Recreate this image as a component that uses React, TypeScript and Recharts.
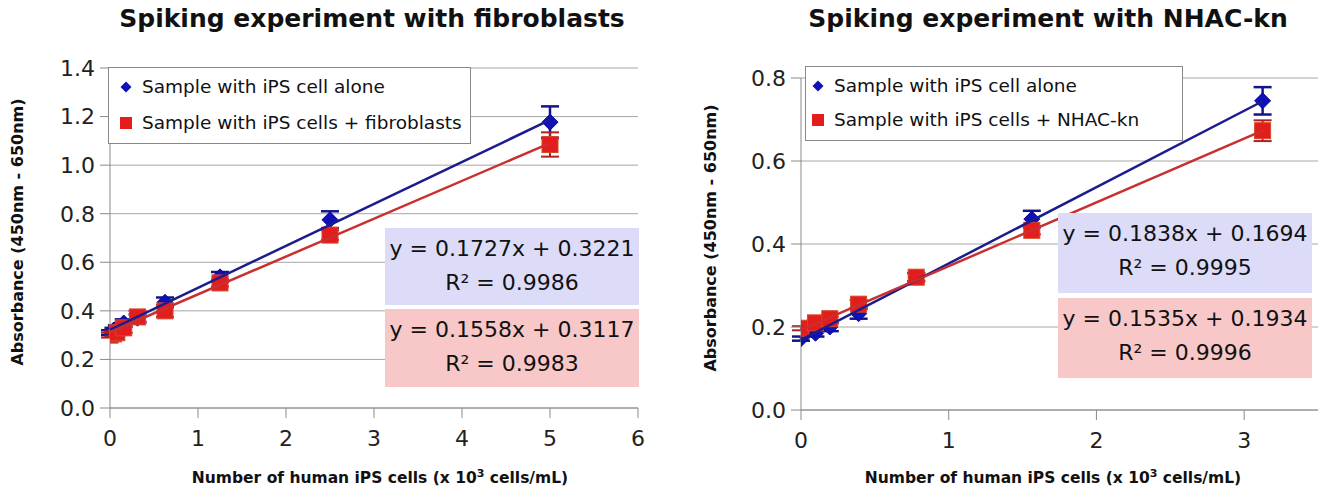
import React from 'react';
import { ComposedChart, Scatter, XAxis, YAxis, CartesianGrid, ErrorBar } from 'recharts';

// fibroblast spiking experiment
const xLeft = [0, 0.039, 0.078, 0.156, 0.3125, 0.625, 1.25, 2.5, 5];
const aloneLeft = [0.31, 0.32, 0.33, 0.35, 0.37, 0.435, 0.54, 0.775, 1.177];
const aloneLeftErr = [0.01, 0.01, 0.01, 0.015, 0.015, 0.02, 0.02, 0.035, 0.065];
const fibroLeft = [0.3, 0.305, 0.31, 0.33, 0.375, 0.4, 0.515, 0.712, 1.085];
const fibroLeftErr = [0.01, 0.01, 0.01, 0.02, 0.025, 0.025, 0.015, 0.02, 0.05];
const aloneLeftFit = [[0, 0.322], [5, 1.186]];
const fibroLeftFit = [[0, 0.312], [5, 1.091]];
const xTicksLeft = [0, 1, 2, 3, 4, 5, 6];
const yTicksLeft = [0, 0.2, 0.4, 0.6, 0.8, 1.0, 1.2, 1.4];

// NHAC-kn spiking experiment
const xRight = [0, 0.098, 0.195, 0.39, 0.78, 1.5625, 3.125];
const aloneRight = [0.172, 0.185, 0.2, 0.232, 0.32, 0.46, 0.745];
const aloneRightErr = [0.005, 0.008, 0.01, 0.012, 0.01, 0.02, 0.033];
const nhacRight = [0.197, 0.21, 0.22, 0.255, 0.32, 0.433, 0.673];
const nhacRightErr = [0.005, 0.005, 0.005, 0.01, 0.01, 0.01, 0.025];
const aloneRightFit = [[0, 0.169], [3.125, 0.744]];
const nhacRightFit = [[0, 0.193], [3.125, 0.673]];
const xTicksRight = [0, 1, 2, 3];
const yTicksRight = [0, 0.2, 0.4, 0.6, 0.8];

const FONT = '"DejaVu Sans", Verdana, sans-serif';
const BLUE = '#1010b8';
const BLUE_LINE = '#1c1c8e';
const RED = '#e41c1c';
const RED_LINE = '#c83030';

const toPoints = (xs: number[], ys: number[], errs: number[]) =>
  xs.map((x, i) => ({ x, y: ys[i], err: errs[i] }));
const toFit = (pts: number[][]) => pts.map(([x, y]) => ({ x, y }));

const Diamond = (props: any) => {
  const { cx, cy } = props;
  if (cx == null || cy == null) return <g />;
  const r = 8;
  return <polygon points={`${cx},${cy - r} ${cx + r},${cy} ${cx},${cy + r} ${cx - r},${cy}`} fill={BLUE} stroke="#0a0a90" strokeWidth={1} />;
};

const Square = (props: any) => {
  const { cx, cy } = props;
  if (cx == null || cy == null) return <g />;
  const h = 8;
  return <rect x={cx - h} y={cy - h} width={h * 2} height={h * 2} fill={RED} stroke="#d04a2a" strokeWidth={1} />;
};

const Nothing = () => <g />;

interface PanelProps {
  left: number;
  width: number;
  top: number;
  bottom: number;
  right: number;
  xDomain: [number, number];
  yDomain: [number, number];
  xTicks: number[];
  yTicks: number[];
  blue: any[];
  red: any[];
  blueFit: any[];
  redFit: any[];
}

const Panel: React.FC<PanelProps> = (p) => (
  <div style={{ position: 'absolute', left: p.left, top: 0 }}>
    <ComposedChart width={p.width} height={503} margin={{ top: p.top, right: p.right, bottom: p.bottom, left: 0 }}>
      <CartesianGrid vertical={false} stroke="#a6a6a6" />
      <XAxis
        type="number"
        dataKey="x"
        domain={p.xDomain}
        ticks={p.xTicks}
        allowDataOverflow
        height={30}
        tickSize={10}
        tickMargin={12}
        stroke="#8a8a8a"
        tick={{ fill: '#222', fontSize: 22, fontFamily: FONT }}
      />
      <YAxis
        type="number"
        dataKey="y"
        domain={p.yDomain}
        ticks={p.yTicks}
        width={p.left === 0 ? 110 : 111}
        tickSize={10}
        tickMargin={5}
        stroke="#8a8a8a"
        tickFormatter={(v: number) => v.toFixed(1)}
        tick={{ fill: '#222', fontSize: 22, fontFamily: FONT }}
      />
      <Scatter data={p.blue} fill={BLUE} shape={<Diamond />} isAnimationActive={false}>
        <ErrorBar dataKey="err" direction="y" width={9} stroke="#14148a" strokeWidth={2.5} />
      </Scatter>
      <Scatter data={p.red} fill={RED} shape={<Square />} isAnimationActive={false}>
        <ErrorBar dataKey="err" direction="y" width={9} stroke="#b02020" strokeWidth={2} />
      </Scatter>
      <Scatter data={p.blueFit} fill={BLUE_LINE} line={{ stroke: BLUE_LINE, strokeWidth: 2.5 }} shape={<Nothing />} isAnimationActive={false} />
      <Scatter data={p.redFit} fill={RED_LINE} line={{ stroke: RED_LINE, strokeWidth: 2.5 }} shape={<Nothing />} isAnimationActive={false} />
    </ComposedChart>
  </div>
);

const txt = (extra: React.CSSProperties): React.CSSProperties => ({
  position: 'absolute',
  fontFamily: FONT,
  color: '#111',
  whiteSpace: 'nowrap',
  ...extra,
});

const Legend: React.FC<{ left: number; top: number; width: number; height: number; pad: number; second: string }> = ({ left, top, width, height, pad, second }) => (
  <div style={{ position: 'absolute', left, top, width, height, background: '#fff', border: '1px solid #888', boxSizing: 'border-box', fontFamily: FONT, fontSize: 18.5, color: '#111' }}>
    <div style={{ position: 'absolute', left: pad, top: 8, display: 'flex', alignItems: 'center' }}>
      <svg width={12} height={12} style={{ marginRight: 10 }}>
        <polygon points="6,0.5 11.5,6 6,11.5 0.5,6" fill={BLUE} />
      </svg>
      Sample with iPS cell alone
    </div>
    <div style={{ position: 'absolute', left: pad, top: height - 33, display: 'flex', alignItems: 'center' }}>
      <svg width={12} height={12} style={{ marginRight: 10 }}>
        <rect x={0} y={0} width={12} height={12} fill={RED} />
      </svg>
      {second}
    </div>
  </div>
);

const EqBox: React.FC<{ left: number; top: number; height: number; bg: string; eq: string; r2: string }> = ({ left, top, height, bg, eq, r2 }) => (
  <div style={{ position: 'absolute', left, top, width: 254, height, background: bg, fontFamily: FONT, fontSize: 22, color: '#111', textAlign: 'center', lineHeight: '34px', paddingTop: 4, boxSizing: 'border-box' }}>
    <div>{eq}</div>
    <div>R² = {r2}</div>
  </div>
);

const XLabel: React.FC<{ cx: number }> = ({ cx }) => (
  <div style={txt({ left: cx - 220, width: 440, top: 467, textAlign: 'center', fontSize: 15.5, fontWeight: 'bold' })}>
    Number of human iPS cells (x 10<sup style={{ fontSize: 11 }}>3</sup> cells/mL)
  </div>
);

const YLabel: React.FC<{ cx: number; cy: number }> = ({ cx, cy }) => (
  <div style={txt({ left: cx - 150, top: cy - 10, width: 300, height: 20, textAlign: 'center', fontSize: 16, fontWeight: 'bold', transform: 'rotate(-90deg)', lineHeight: '20px' })}>
    Absorbance (450nm - 650nm)
  </div>
);

export default function App() {
  return (
    <div style={{ position: 'absolute', left: 0, top: 0, width: 1321, height: 503, background: '#fff', overflow: 'hidden' }}>
      <Panel
        left={0}
        width={660}
        top={68}
        right={22}
        bottom={65}
        xDomain={[0, 6]}
        yDomain={[0, 1.4]}
        xTicks={xTicksLeft}
        yTicks={yTicksLeft}
        blue={toPoints(xLeft, aloneLeft, aloneLeftErr)}
        red={toPoints(xLeft, fibroLeft, fibroLeftErr)}
        blueFit={toFit(aloneLeftFit)}
        redFit={toFit(fibroLeftFit)}
      />
      <Panel
        left={690}
        width={631}
        top={78}
        right={3}
        bottom={63}
        xDomain={[0, 3.5]}
        yDomain={[0, 0.8]}
        xTicks={xTicksRight}
        yTicks={yTicksRight}
        blue={toPoints(xRight, aloneRight, aloneRightErr)}
        red={toPoints(xRight, nhacRight, nhacRightErr)}
        blueFit={toFit(aloneRightFit)}
        redFit={toFit(nhacRightFit)}
      />
      <div style={txt({ left: 72, width: 600, top: 4, textAlign: 'center', fontSize: 25, fontWeight: 'bold' })}>
        Spiking experiment with fibroblasts
      </div>
      <div style={txt({ left: 748, width: 600, top: 4, textAlign: 'center', fontSize: 25, fontWeight: 'bold' })}>
        Spiking experiment with NHAC-kn
      </div>
      <Legend left={108} top={67} width={363} height={77} pad={11} second="Sample with iPS cells + fibroblasts" />
      <Legend left={805} top={66} width={378} height={75} pad={6} second="Sample with iPS cells + NHAC-kn" />
      <EqBox left={385} top={228} height={77} bg="#dcdcf8" eq="y = 0.1727x + 0.3221" r2="0.9986" />
      <EqBox left={385} top={309} height={78} bg="#f8c8c8" eq="y = 0.1558x + 0.3117" r2="0.9983" />
      <EqBox left={1058} top={213} height={80} bg="#dcdcf8" eq="y = 0.1838x + 0.1694" r2="0.9995" />
      <EqBox left={1058} top={298} height={80} bg="#f8c8c8" eq="y = 0.1535x + 0.1934" r2="0.9996" />
      <XLabel cx={380} />
      <XLabel cx={1053} />
      <YLabel cx={18} cy={232} />
      <YLabel cx={711} cy={238} />
    </div>
  );
}
